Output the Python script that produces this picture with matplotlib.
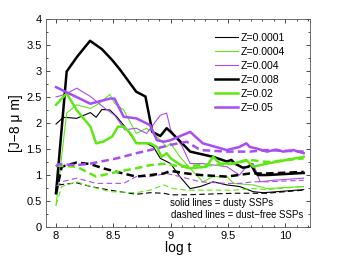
import matplotlib
matplotlib.use("Agg")
import matplotlib.pyplot as plt
from matplotlib.ticker import MultipleLocator

plt.rcParams['font.family'] = ['Liberation Sans', 'DejaVu Sans']

green = '#5fe814'
purple = '#a84cf5'

# dusty SSPs (solid)
x_z0001 = [8.0, 8.064, 8.18, 8.30, 8.35, 8.40, 8.47, 8.53, 8.60, 8.70, 8.79, 8.85, 8.91, 8.965, 9.0,
           9.08, 9.17, 9.26, 9.37, 9.49, 9.60, 9.72, 9.81, 10.16]
y_z0001 = [1.98, 2.11, 2.09, 2.20, 2.11, 2.26, 2.25, 2.12, 1.93, 1.62, 1.61, 1.54, 1.32, 1.26, 1.22,
           0.97, 0.74, 0.78, 0.87, 0.81, 0.78, 0.68, 0.66, 0.72]

x_z0004 = [8.0, 8.093, 8.18, 8.30, 8.38, 8.47, 8.51, 8.59, 8.70, 8.79, 8.85, 8.91, 8.965, 9.0,
           9.08, 9.17, 9.28, 9.37, 9.49, 9.55, 9.72, 9.84, 10.16]
y_z0004 = [0.42, 2.19, 2.35, 2.28, 2.38, 2.55, 2.38, 2.25, 1.80, 1.90, 1.80, 1.67, 1.54, 1.61,
           1.35, 1.13, 0.87, 0.97, 0.97, 0.84, 0.81, 0.74, 0.78]

x_z004 = [8.0, 8.08, 8.18, 8.30, 8.41, 8.51, 8.60, 8.70, 8.79, 8.91, 8.965, 9.0, 9.10, 9.17, 9.28,
          9.49, 9.60, 9.66, 9.72, 9.78, 9.90, 10.16]
y_z004 = [2.50, 2.55, 2.67, 2.51, 2.31, 2.15, 1.87, 1.90, 1.80, 2.15, 2.19, 1.87, 1.55, 1.22, 1.22,
          1.16, 1.00, 1.16, 1.22, 0.87, 0.90, 0.94]

x_z008 = [8.0, 8.093, 8.186, 8.297, 8.40, 8.49, 8.56, 8.70, 8.78, 8.84, 8.91, 8.965, 9.0, 9.10,
          9.17, 9.37, 9.49, 9.53, 9.56, 9.63, 9.68, 9.70, 9.735, 9.76, 9.84, 10.16]
y_z008 = [0.65, 2.99, 3.28, 3.58, 3.42, 3.21, 3.02, 2.60, 2.51, 1.83, 1.75, 1.90, 1.83, 1.61,
          1.45, 1.35, 1.26, 1.29, 1.22, 1.14, 1.16, 1.21, 1.06, 1.00, 1.00, 1.04]

x_z02 = [8.0, 8.093, 8.18, 8.30, 8.35, 8.41, 8.49, 8.54, 8.59, 8.65, 8.70, 8.82, 8.88, 8.92, 8.965,
         9.0, 9.11, 9.17, 9.31, 9.37, 9.43, 9.55, 9.66, 9.72, 9.84, 10.16]
y_z02 = [2.35, 2.57, 2.25, 1.93, 1.61, 1.64, 1.74, 1.93, 1.93, 1.80, 1.61, 1.61, 1.54, 1.35, 1.42,
         1.32, 1.16, 1.13, 1.16, 1.35, 1.22, 1.22, 1.29, 1.16, 1.22, 1.35]

x_z05 = [8.0, 8.30, 8.47, 8.51, 8.59, 8.70, 8.82, 8.88, 8.94, 9.0, 9.17, 9.28, 9.49, 9.60, 9.66,
         9.69, 9.75, 9.84, 9.92, 9.98, 10.07, 10.16]
y_z05 = [2.69, 2.37, 2.47, 2.47, 2.12, 2.09, 1.96, 1.67, 1.64, 1.67, 1.83, 1.61, 1.48, 1.54, 1.61,
         1.54, 1.51, 1.45, 1.49, 1.45, 1.48, 1.42]

# dust-free SSPs (dashed)
xd_z0001 = [8.0, 8.02, 8.18, 8.30, 8.47, 8.70, 8.82, 8.94, 9.0, 9.14, 9.55, 9.72, 9.84, 10.16]
yd_z0001 = [0.65, 0.81, 0.85, 0.78, 0.71, 0.63, 0.66, 0.65, 0.62, 0.62, 0.65, 0.65, 0.65, 0.71]

xd_z0004 = [8.0, 8.05, 8.18, 8.30, 8.47, 8.70, 8.82, 8.94, 9.02, 9.14, 9.37, 9.55, 9.72, 9.84, 10.16]
yd_z0004 = [0.42, 0.78, 0.87, 0.78, 0.68, 0.66, 0.71, 0.81, 0.74, 0.71, 0.71, 0.71, 0.74, 0.72, 0.78]

xd_z004 = [8.0, 8.05, 8.18, 8.35, 8.59, 8.70, 8.82, 8.965, 9.08, 9.26, 9.49, 9.60, 9.72, 9.84, 10.16]
yd_z004 = [0.78, 0.87, 0.94, 0.84, 0.84, 0.97, 0.97, 1.03, 0.97, 0.87, 0.84, 0.84, 0.87, 0.87, 0.90]

xd_z008 = [8.0, 8.05, 8.18, 8.30, 8.41, 8.53, 8.70, 8.82, 8.94, 9.0, 9.14, 9.26, 9.49, 9.69, 9.84, 10.16]
yd_z008 = [0.65, 1.16, 1.24, 1.21, 1.13, 1.06, 0.97, 1.00, 1.03, 1.08, 1.03, 1.00, 0.97, 1.03, 1.03, 1.06]

xd_z02 = [8.0, 8.02, 8.18, 8.35, 8.53, 8.70, 8.82, 8.965, 9.08, 9.26, 9.37, 9.55, 9.69, 9.84, 10.16]
yd_z02 = [1.17, 1.18, 1.16, 0.97, 1.06, 1.13, 1.19, 1.22, 1.16, 1.19, 1.19, 1.22, 1.29, 1.25, 1.32]

xd_z05 = [8.0, 8.02, 8.18, 8.30, 8.53, 8.70, 8.82, 9.0, 9.14, 9.26, 9.49, 9.69, 9.84, 10.16]
yd_z05 = [1.16, 1.21, 1.19, 1.22, 1.32, 1.42, 1.48, 1.58, 1.64, 1.48, 1.45, 1.45, 1.48, 1.45]

fig = plt.figure(figsize=(3.41, 2.56), dpi=100)
ax = fig.add_axes([0.134, 0.113, 0.775, 0.813])

thin, thick = 0.8, 1.8
ax.plot(x_z0001, y_z0001, color='k', lw=thin, label='Z=0.0001')
ax.plot(x_z0004, y_z0004, color=green, lw=thin, label='Z=0.0004')
ax.plot(x_z004, y_z004, color=purple, lw=thin, label='Z=0.004')
ax.plot(x_z008, y_z008, color='k', lw=thick, label='Z=0.008')
ax.plot(x_z02, y_z02, color=green, lw=thick, label='Z=0.02')
ax.plot(x_z05, y_z05, color=purple, lw=thick, label='Z=0.05')

ax.plot(xd_z0001, yd_z0001, color='k', lw=thin, ls=(0, (5, 3)))
ax.plot(xd_z0004, yd_z0004, color=green, lw=thin, ls=(0, (5, 3)))
ax.plot(xd_z004, yd_z004, color=purple, lw=thin, ls=(0, (5, 3)))
ax.plot(xd_z008, yd_z008, color='k', lw=thick, ls=(0, (3, 1.7)))
ax.plot(xd_z02, yd_z02, color=green, lw=thick, ls=(0, (3, 1.7)))
ax.plot(xd_z05, yd_z05, color=purple, lw=thick, ls=(0, (3, 1.7)))

ax.set_xlim(7.91, 10.215)
ax.set_ylim(0, 4)
ax.xaxis.set_minor_locator(MultipleLocator(0.1))
ax.yaxis.set_minor_locator(MultipleLocator(0.25))
ax.set_xticks([8, 8.5, 9, 9.5, 10])
ax.set_xticklabels(['8', '8.5', '9', '9.5', '10'])
ax.set_yticks([0, 0.5, 1, 1.5, 2, 2.5, 3, 3.5, 4])
ax.set_yticklabels(['0', '0.5', '1', '1.5', '2', '2.5', '3', '3.5', '4'])
ax.tick_params(which='both', direction='in', top=True, right=True, labelsize=8, pad=3)
ax.tick_params(which='major', length=3, width=0.5)
ax.tick_params(which='minor', length=1.5, width=0.5)
for s in ax.spines.values():
    s.set_linewidth(0.6)
    s.set_color('#555555')

ax.set_xlabel('log t', fontsize=10, labelpad=0)
ax.set_ylabel('[J\u22128 \u03bc m]', fontsize=10, labelpad=2)

ax.legend(loc='upper right', bbox_to_anchor=(0.92, 0.955), frameon=False, fontsize=7.6,
          handlelength=2.2, handletextpad=0.2, labelspacing=0.38, borderaxespad=0)

ax.text(8.995, 0.455, 'solid lines = dusty SSPs', fontsize=6.9, va='center', ha='left')
ax.text(9.0, 0.23, 'dashed lines = dust\u2212free SSPs', fontsize=6.9, va='center', ha='left')

fig.savefig('out.png', dpi=100)
